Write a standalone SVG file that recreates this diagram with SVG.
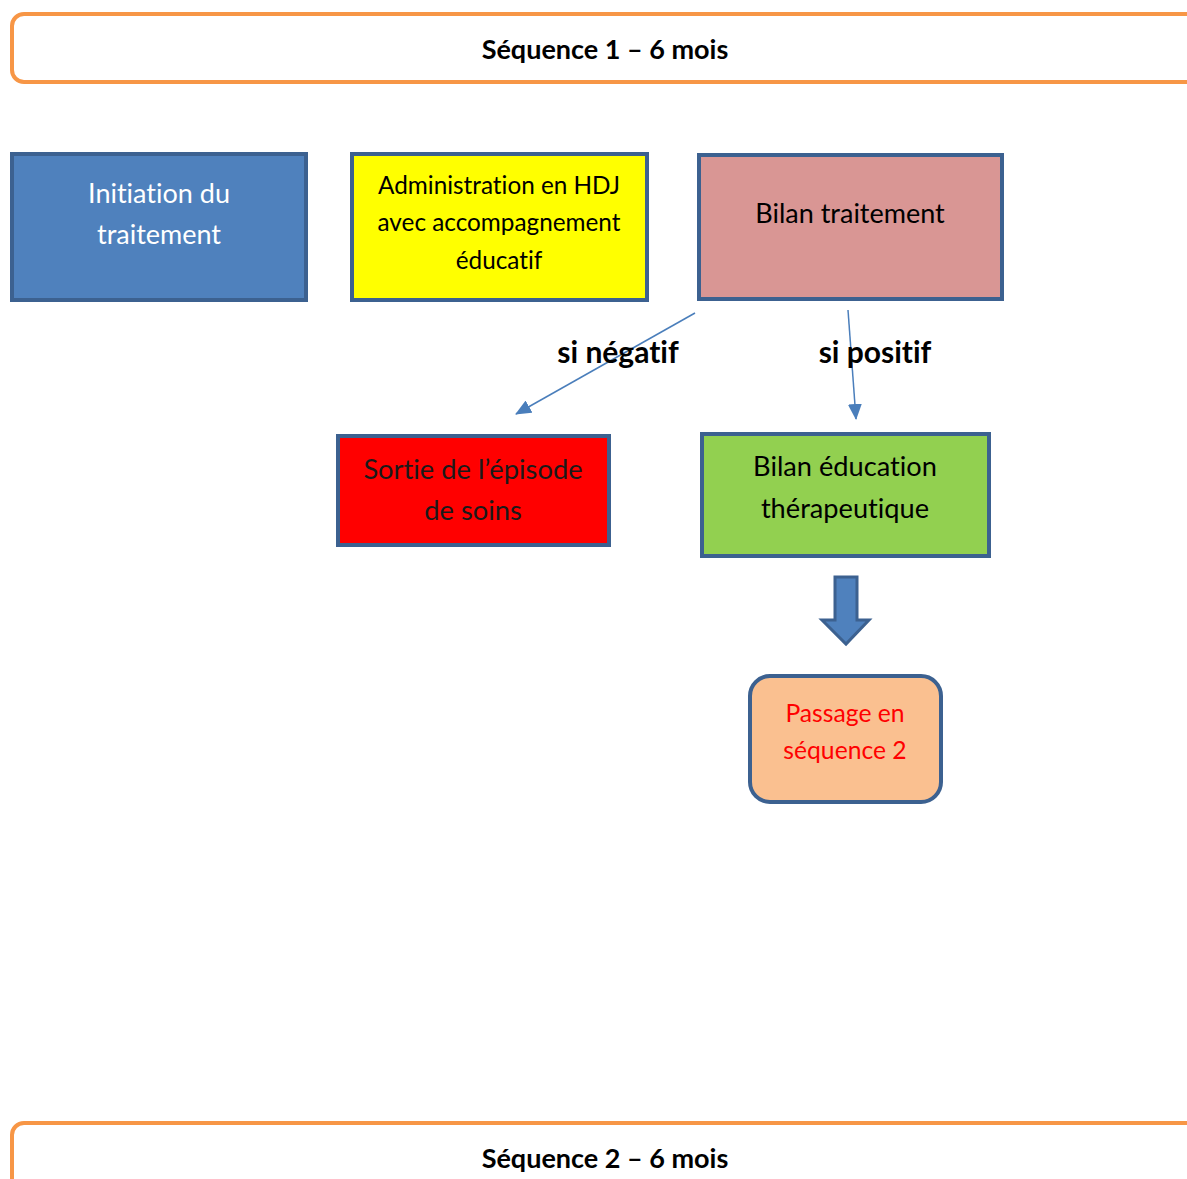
<svg xmlns="http://www.w3.org/2000/svg" width="1187" height="1179" viewBox="0 0 1187 1179">
<style>
text{font-family:Lato,"Open Sans","Liberation Sans",sans-serif;text-anchor:middle;dominant-baseline:central;font-variant-ligatures:none;font-feature-settings:"liga" 0}
.banner{fill:#fff;stroke:#F79646;stroke-width:4}
.box{stroke:#3C6190;stroke-width:4}
.hdr{font-weight:bold;font-size:27px;fill:#000}
.lbl{font-weight:bold;font-size:30px;fill:#000}
.conn{stroke:#4A7EBB;stroke-width:1.5;fill:none}
</style>
<defs>
<marker id="ah" markerWidth="16" markerHeight="14" refX="15" refY="7" orient="auto" markerUnits="userSpaceOnUse" viewBox="0 0 16 14">
<path d="M0,0 L16,7 L0,14 z" fill="#4A7EBB"/>
</marker>
</defs>
<rect width="1187" height="1179" fill="#fff"/>
<g id="banner1">
<rect class="banner" x="12" y="14" width="1200" height="68" rx="12"/>
<text class="hdr" x="605" y="48">Séquence 1 – 6 mois</text>
</g>
<g id="banner2">
<rect class="banner" x="12" y="1123" width="1200" height="100" rx="12"/>
<text class="hdr" x="605" y="1157">Séquence 2 – 6 mois</text>
</g>
<g id="initiation">
<rect class="box" x="12" y="154" width="294" height="146" fill="#4F81BD"/>
<text x="159" y="192" font-size="27" fill="#fff">Initiation du</text>
<text x="159" y="233" font-size="27" fill="#fff">traitement</text>
</g>
<g id="administration">
<rect class="box" x="352" y="154" width="295" height="146" fill="#FFFF00"/>
<text x="499" y="184" font-size="24.3" fill="#000">Administration en HDJ</text>
<text x="499" y="221" font-size="24.3" fill="#000">avec accompagnement</text>
<text x="499" y="259" font-size="24.3" fill="#000">éducatif</text>
</g>
<g id="bilan">
<rect class="box" x="699" y="155" width="303" height="144" fill="#D99694"/>
<text x="850" y="212" font-size="27" fill="#000">Bilan traitement</text>
</g>
<g id="sortie">
<rect class="box" x="338" y="436" width="271" height="109" fill="#FF0000"/>
<text x="473" y="468" font-size="27.3" fill="#1a1a1a">Sortie de l’épisode</text>
<text x="473" y="509" font-size="27.3" fill="#1a1a1a">de soins</text>
</g>
<g id="education">
<rect class="box" x="702" y="434" width="287" height="122" fill="#92D050"/>
<text x="845" y="465" font-size="27.2" fill="#000">Bilan éducation</text>
<text x="845" y="507" font-size="27.2" fill="#000">thérapeutique</text>
</g>
<g id="passage">
<rect class="box" x="750" y="676" width="191" height="126" rx="20" fill="#FAC090"/>
<text x="845" y="712" font-size="24.7" fill="#FF0000">Passage en</text>
<text x="845" y="749" font-size="24.7" fill="#FF0000">séquence 2</text>
</g>
<g id="connectors">
<line class="conn" x1="695" y1="313" x2="516" y2="414" marker-end="url(#ah)"/>
<line class="conn" x1="848" y1="310" x2="856" y2="419" marker-end="url(#ah)"/>
<path d="M835,577 H857 V620 H869 L846,644 L822,620 H835 Z" fill="#4F81BD" stroke="#3C6190" stroke-width="3" stroke-linejoin="miter"/>
</g>
<g id="labels">
<text class="lbl" x="618" y="351">si négatif</text>
<text class="lbl" x="875" y="351">si positif</text>
</g>
</svg>
